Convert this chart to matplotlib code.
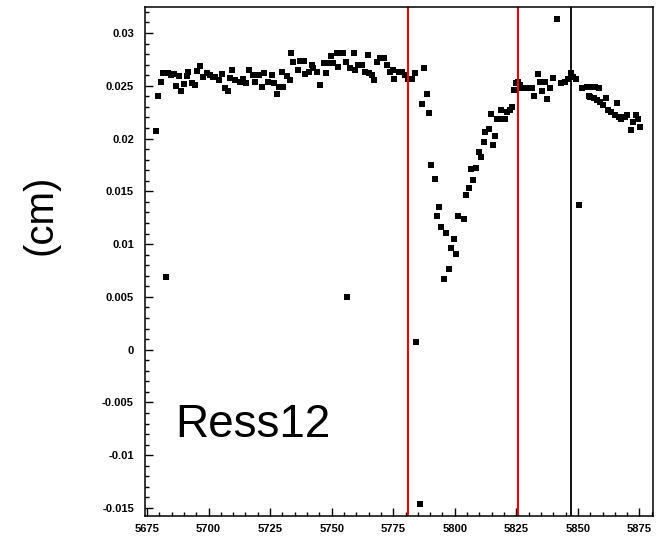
import matplotlib
matplotlib.use("Agg")
import matplotlib.pyplot as plt
from matplotlib.ticker import MultipleLocator, FuncFormatter

plt.rcParams['axes.unicode_minus'] = False
plt.rcParams['font.family'] = ['Liberation Sans', 'DejaVu Sans']

run = [5678.8, 5679.6, 5680.6, 5681.7, 5682.8, 5683.7, 5684.8, 5686.1, 5686.7, 5688.2,
       5688.9, 5690.1, 5691.2, 5691.8, 5693.2, 5694.5, 5695.5, 5696.7, 5697.9, 5699.3,
       5700.6, 5701.7, 5702.7, 5704.3, 5705.6, 5706.7, 5707.8, 5708.8, 5709.7, 5710.8,
       5712.8, 5714.2, 5715.3, 5716.6, 5718.2, 5718.9, 5720.3, 5721.6, 5722.6, 5724.3,
       5725.7, 5726.4, 5727.7, 5728.8, 5729.8, 5730.2, 5731.8, 5732.9, 5733.6, 5734.5,
       5736.5, 5737.2, 5738.6, 5739.2, 5740.6, 5742.0, 5742.6, 5744.2, 5745.3, 5746.7,
       5747.8, 5748.7, 5749.7, 5750.7, 5752.1, 5752.4, 5753.5, 5754.8, 5755.8, 5756.3,
       5757.5, 5758.9, 5759.3, 5760.9, 5762.3, 5763.6, 5764.6, 5765.0, 5766.4, 5767.4,
       5768.4, 5769.7, 5771.1, 5772.4, 5773.5, 5775.1, 5775.5, 5777.2, 5778.5, 5779.9,
       5781.2, 5782.6, 5783.7, 5784.3, 5785.7, 5786.7, 5787.7, 5788.7, 5789.6, 5790.4,
       5791.8, 5792.8, 5793.4, 5794.5, 5795.6, 5796.5, 5797.6, 5798.6, 5799.7, 5800.6,
       5801.5, 5803.6, 5804.5, 5805.6, 5806.5, 5807.6, 5808.7, 5809.7, 5810.6, 5811.7,
       5812.4, 5813.7, 5814.8, 5815.5, 5816.4, 5817.1, 5818.5, 5818.8, 5820.2, 5821.2,
       5822.3, 5823.2, 5824.2, 5825.0, 5825.6, 5826.6, 5827.3, 5828.6, 5830.0, 5831.4,
       5832.3, 5833.6, 5834.7, 5835.5, 5836.5, 5837.5, 5838.8, 5839.9, 5841.5, 5843.2,
       5844.6, 5846.0, 5847.0, 5848.0, 5849.4, 5850.5, 5851.7, 5853.7, 5854.4, 5855.0,
       5855.5, 5856.4, 5856.8, 5857.7, 5858.4, 5859.1, 5860.4, 5861.4, 5862.3, 5863.6,
       5864.9, 5865.9, 5866.6, 5867.7, 5869.1, 5870.0, 5871.4, 5872.3, 5873.4, 5874.5,
       5875.4]

res = [0.02075, 0.0240, 0.02539, 0.02624, 0.0069, 0.02618, 0.0260, 0.0261, 0.0250, 0.0259,
       0.02454, 0.02517, 0.0259, 0.02634, 0.0253, 0.02508, 0.0264, 0.02687, 0.02586, 0.0262,
       0.0260, 0.0258, 0.02586, 0.02555, 0.0261, 0.02476, 0.0245, 0.0257, 0.0265, 0.02555,
       0.0254, 0.02562, 0.02524, 0.0265, 0.0260, 0.0254, 0.0260, 0.02492, 0.02624, 0.0254,
       0.0260, 0.02524, 0.02422, 0.02492, 0.02634, 0.02492, 0.0259, 0.02555, 0.02813, 0.02728,
       0.0265, 0.02738, 0.02738, 0.02612, 0.02634, 0.02697, 0.02666, 0.02634, 0.02508, 0.02713,
       0.02624, 0.02719, 0.02782, 0.02713, 0.02808, 0.0268, 0.02808, 0.02808, 0.02728, 0.0050,
       0.02666, 0.02813, 0.0265, 0.02697, 0.02697, 0.02634, 0.02792, 0.0262, 0.0260, 0.02555,
       0.02728, 0.0276, 0.0276, 0.02697, 0.02634, 0.0265, 0.02562, 0.02634, 0.02634, 0.0260,
       0.02562, 0.02562, 0.0262, 0.0007, -0.0146, 0.02325, 0.02666, 0.0242, 0.0224, 0.0175,
       0.01617, 0.01267, 0.01355, 0.01166, 0.00667, 0.01103, 0.00768, 0.00967, 0.0105, 0.00904,
       0.0127, 0.01239, 0.01466, 0.01535, 0.01709, 0.01608, 0.01724, 0.0187, 0.01823, 0.01971,
       0.0206, 0.02088, 0.02233, 0.01936, 0.02027, 0.02183, 0.02183, 0.02271, 0.02183, 0.02255,
       0.02271, 0.02296, 0.0246, 0.02529, 0.0254, 0.02508, 0.02476, 0.02476, 0.02476, 0.02476,
       0.02403, 0.02612, 0.0254, 0.0245, 0.0254, 0.02375, 0.02476, 0.0257, 0.0313, 0.02524,
       0.0254, 0.02562, 0.0262, 0.02586, 0.02562, 0.01371, 0.02476, 0.02492, 0.02403, 0.0239,
       0.02492, 0.0238, 0.02492, 0.02365, 0.02476, 0.0235, 0.02318, 0.0238, 0.0227, 0.02255,
       0.02224, 0.02334, 0.02208, 0.02182, 0.02208, 0.02224, 0.02082, 0.0216, 0.02224, 0.02182,
       0.02107]

red_lines = [5781.0, 5825.6]
black_lines = [5847.0]
x_ticks = [5675, 5700, 5725, 5750, 5775, 5800, 5825, 5850, 5875]
y_ticks = [-0.015, -0.01, -0.005, 0, 0.005, 0.01, 0.015, 0.02, 0.025, 0.03]

W, H = 662, 539
fig = plt.figure(figsize=(W / 100, H / 100), dpi=100)
ax = fig.add_axes([145 / W, 1 - 516 / H, (652.5 - 145) / W, (516 - 7) / H])

ax.plot(run, res, 's', color='black', markersize=3.8, markeredgewidth=0)
for xv in red_lines:
    ax.axvline(xv, color='#ee0000', lw=1.5)
for xv in black_lines:
    ax.axvline(xv, color='black', lw=1.3)

ax.set_xlim(5674.2, 5880.3)
ax.set_ylim(-0.01576, 0.03246)
ax.set_xticks(x_ticks)
ax.set_yticks(y_ticks)
ax.xaxis.set_minor_locator(MultipleLocator(5))
ax.yaxis.set_minor_locator(MultipleLocator(0.001))
ax.yaxis.set_major_formatter(FuncFormatter(lambda v, p: '0' if abs(v) < 1e-12 else ('%g' % v)))
ax.tick_params(which='both', direction='in', top=False, right=False, width=1.0)
ax.tick_params(which='major', length=6)
ax.tick_params(which='minor', length=3.2)
ax.tick_params(axis='x', pad=6)
ax.tick_params(axis='y', pad=8)
for lab in ax.get_xticklabels() + ax.get_yticklabels():
    lab.set_fontweight('bold')
    lab.set_fontsize(8)
for sp in ax.spines.values():
    sp.set_linewidth(1.1)

ax.text(5686.4, -0.00826, 'Ress12', fontsize=33, va='baseline', ha='left')
fig.text(40 / W, 1 - 215 / H, '(cm)', fontsize=29, rotation=90, ha='center', va='center')

fig.savefig('out.png', dpi=100)
